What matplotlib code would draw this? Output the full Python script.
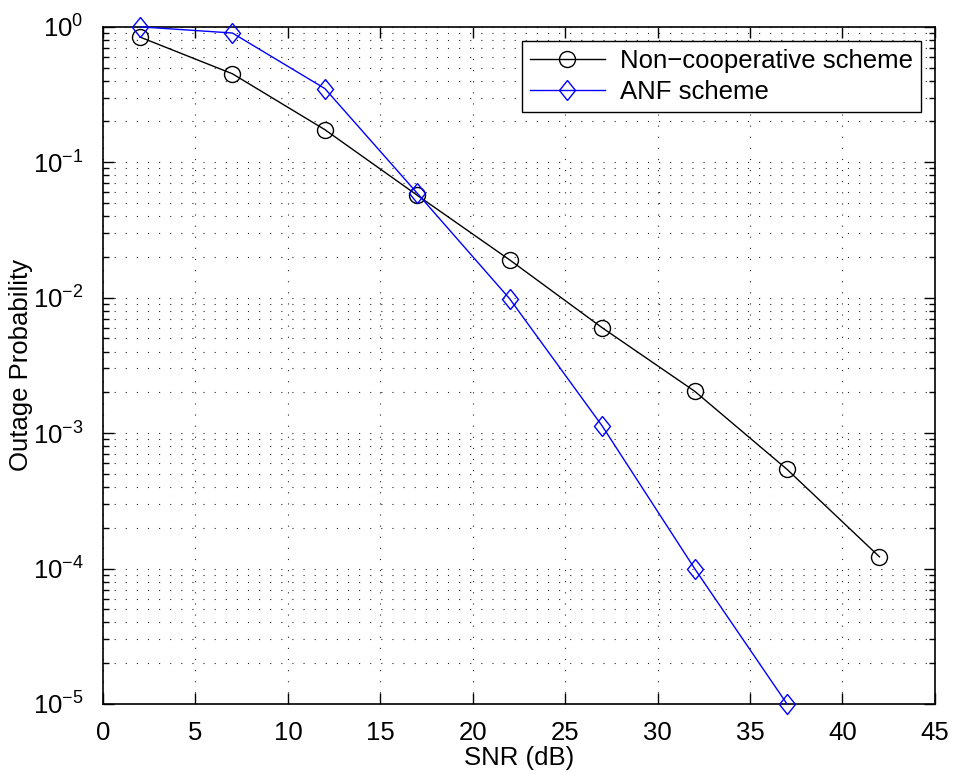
import matplotlib.pyplot as plt
from matplotlib.markers import MarkerStyle
from matplotlib.transforms import Affine2D
from matplotlib.ticker import LogLocator, NullFormatter

plt.rcParams['font.family'] = ['Liberation Sans', 'DejaVu Sans']
plt.rcParams['mathtext.default'] = 'regular'

snr = [2, 7, 12, 17, 22, 27, 32, 37, 42]
non_coop = [0.84, 0.45, 0.174, 0.057, 0.019, 0.006, 0.00204, 0.00054, 0.000122]
snr_anf = [2, 7, 12, 17, 22, 27, 32, 37]
anf = [1.0, 0.90, 0.35, 0.059, 0.0098, 0.00113, 0.0001, 0.00001]

fs = 18.5

fig = plt.figure(figsize=(9.54, 7.73), dpi=100)
ax = fig.add_axes([0.108, 0.0893, 0.872, 0.876])

diamond = MarkerStyle('D', transform=Affine2D().scale(0.75, 1.0))
ax.semilogy(snr, non_coop, color='k', lw=1.0, marker='o', ms=11.5,
            mfc='none', mec='k', mew=1.0, label='Non\u2212cooperative scheme',
            clip_on=False, zorder=3)
ax.semilogy(snr_anf, anf, color='b', lw=1.0, marker=diamond, ms=10.2,
            mfc='none', mec='b', mew=1.0, label='ANF scheme',
            clip_on=False, zorder=3)

ax.set_xlim(0, 45)
ax.set_ylim(1e-5, 1)
ax.set_xticks(range(0, 46, 5))
ax.yaxis.set_major_locator(LogLocator(base=10, numticks=10))
ax.yaxis.set_minor_locator(LogLocator(base=10, subs=range(2, 10), numticks=20))
ax.yaxis.set_minor_formatter(NullFormatter())

grid_style = dict(color='0.15', lw=0.8, linestyle=(0, (1, 9)))
ax.grid(True, which='major', axis='both', **grid_style)
ax.grid(True, which='minor', axis='y', **grid_style)

ax.tick_params(which='both', direction='in', top=True, right=True,
               labelsize=fs, width=1.0)
ax.tick_params(which='major', length=8)
ax.tick_params(which='minor', length=4)
ax.tick_params(axis='x', pad=12)
ax.tick_params(axis='y', pad=14)
for s in ax.spines.values():
    s.set_linewidth(1.2)

ax.set_xlabel('SNR (dB)', fontsize=fs, labelpad=1)
ax.set_ylabel('Outage Probability', fontsize=fs, labelpad=0)

leg = ax.legend(loc='upper right', fontsize=fs, fancybox=False, framealpha=1,
                edgecolor='k', borderaxespad=0.55, handlelength=2.9,
                borderpad=0.3, labelspacing=0.3, handletextpad=0.6)
leg.get_frame().set_linewidth(1.0)

fig.savefig('out.png', dpi=100)
